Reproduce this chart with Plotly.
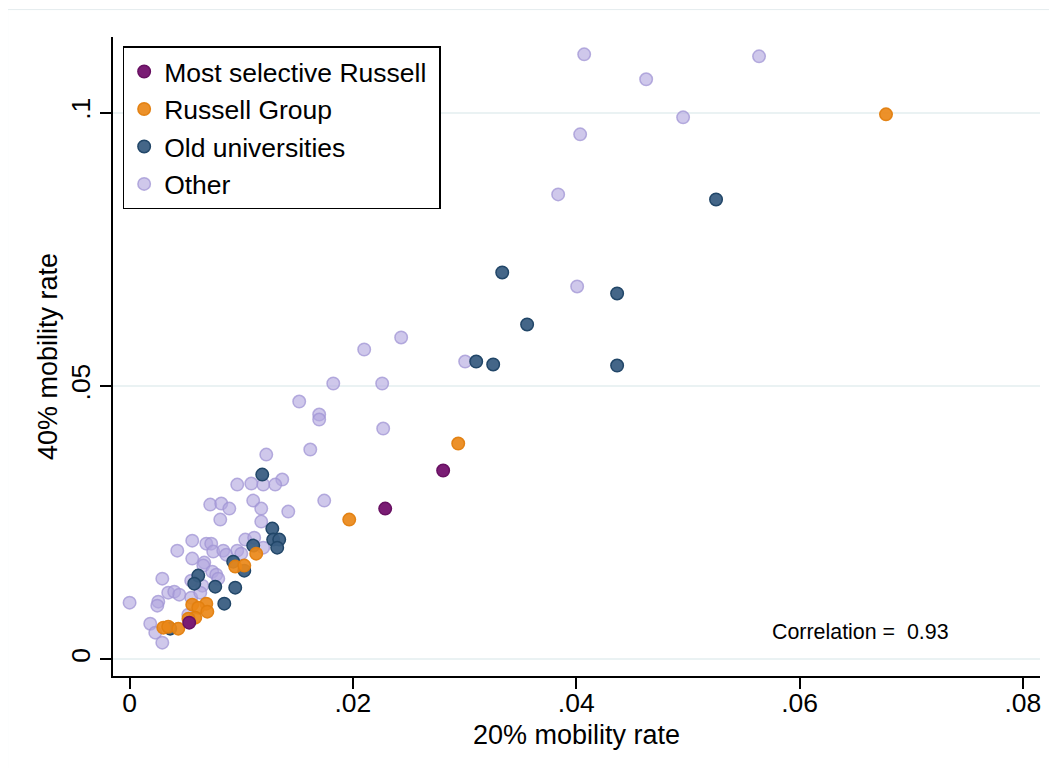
#mobility rates scatter, 20% vs 40%, by university group
import plotly.graph_objects as go

#values
other_x = [0.04071, 0.05637, 0.04626, 0.04957, 0.04035, 0.03838, 0.04008, 0.03005,
           0.02432, 0.02101, 0.01824, 0.02262, 0.01519, 0.01698, 0.01698, 0.02271,
           0.01618, 0.01224, 0.01367, 0.01304, 0.01197, 0.01090, 0.00964, 0.01743,
           0.01421, 0.00722, 0.00821, 0.00893, 0.01107, 0.01179, 0.00812, 0.01179,
           0.00561, 0.00687, 0.00731, 0.00749, 0.00839, 0.00866, 0.00964, 0.01000,
           0.01036, 0.01116, 0.01197, 0.00427, 0.00561, 0.00669, 0.00660, 0.00740,
           0.00776, 0.00794, 0.00293, 0.00651, 0.00346, 0.00400, 0.00445, 0.00552,
           0.00633, 0.00000, 0.00257, 0.00248, 0.00526, 0.00185, 0.00230, 0.00293,
           0.00552]
other_y = [0.11067, 0.11030, 0.10610, 0.09914, 0.09603, 0.08505, 0.06821, 0.05448,
           0.05888, 0.05668, 0.05046, 0.05046, 0.04716, 0.04478, 0.04387, 0.04222,
           0.03838, 0.03746, 0.03289, 0.03197, 0.03197, 0.03216, 0.03197, 0.02904,
           0.02703, 0.02831, 0.02850, 0.02758, 0.02904, 0.02758, 0.02557, 0.02520,
           0.02172, 0.02117, 0.02117, 0.01971, 0.01989, 0.01916, 0.01989, 0.01934,
           0.02191, 0.02227, 0.02044, 0.01989, 0.01843, 0.01770, 0.01715, 0.01605,
           0.01550, 0.01477, 0.01477, 0.01349, 0.01221, 0.01239, 0.01184, 0.01129,
           0.01221, 0.01038, 0.01056, 0.00983, 0.00818, 0.00653, 0.00489, 0.00306,
           0.01440]

old_x = [0.05252, 0.03337, 0.04366, 0.03560, 0.03104, 0.03256, 0.04366, 0.01188,
         0.01278, 0.01286, 0.01340, 0.01322, 0.01107, 0.00928, 0.01027, 0.00615,
         0.00579, 0.00767, 0.00946, 0.00848, 0.00364]
old_y = [0.08413, 0.07077, 0.06693, 0.06126, 0.05448, 0.05394, 0.05375, 0.03380,
         0.02392, 0.02191, 0.02191, 0.02044, 0.02081, 0.01788, 0.01623, 0.01532,
         0.01385, 0.01330, 0.01312, 0.01019, 0.00562]

russell_x = [0.06774, 0.02943, 0.01967, 0.01134, 0.00946, 0.01027, 0.00561, 0.00687,
             0.00615, 0.00696, 0.00588, 0.00527, 0.00302, 0.00346, 0.00436]
russell_y = [0.09969, 0.03948, 0.02557, 0.01934, 0.01697, 0.01715, 0.01001, 0.01019,
             0.00946, 0.00873, 0.00763, 0.00745, 0.00580, 0.00598, 0.00562]

selective_x = [0.00534, 0.02289, 0.02808]
selective_y = [0.00672, 0.02758, 0.03454]

x_ticks = [0, 0.02, 0.04, 0.06, 0.08]
x_labels = ['0', '.02', '.04', '.06', '.08']
y_ticks = [0, 0.05, 0.1]
y_labels = ['0', '.05', '.1']

correlation = 0.93

FONT = 'Liberation Sans, Arial, sans-serif'

fig = go.Figure()

#drawn from back to front, legend shown reversed
#(trailing nbsp on the longest name just pads the legend box a little)
groups = [
    ('Other', other_x, other_y, 'rgba(178,166,222,0.62)', 'rgba(160,148,212,0.75)'),
    ('Old universities', old_x, old_y, 'rgba(58,94,130,0.95)', 'rgb(33,70,104)'),
    ('Russell Group', russell_x, russell_y, 'rgba(234,136,24,0.92)', 'rgba(226,126,14,0.95)'),
    ('Most selective Russell\u00a0', selective_x, selective_y, 'rgb(122,28,116)', 'rgb(104,16,98)'),
]
for name, xs, ys, fill, edge in groups:
    fig.add_trace(go.Scatter(
        x=xs, y=ys, mode='markers', name=name,
        marker=dict(size=12.5, color=fill, line=dict(color=edge, width=1.5))
    ))

fig.add_annotation(
    x=0.05736, y=0.00494, xref='x', yref='y',
    text=f'Correlation =\u00a0 {correlation:.2f}', showarrow=False,
    xanchor='left', yanchor='middle',
    font=dict(family=FONT, size=21.4, color='black')
)

#faint outer frame of the graph region
fig.add_shape(type='rect', xref='paper', yref='paper',
              x0=-0.1137, x1=1.2, y0=-0.3, y1=1.0429,
              line=dict(color='#E4ECEE', width=1), layer='below')

axis_common = dict(
    showline=True, linecolor='black', linewidth=1.5,
    ticks='outside', ticklen=11, tickwidth=1.5, tickcolor='black',
    zeroline=False, tickfont=dict(family=FONT, size=26.5, color='black'),
)

# page body has an 8px margin, so the figure is sized to fit inside the window
fig.update_layout(
    width=1041, height=760,
    margin=dict(l=105, r=9, t=29, b=92),
    paper_bgcolor='white', plot_bgcolor='white',
    font=dict(family=FONT, color='black'),
    xaxis=dict(axis_common, range=[-0.001486, 0.08153], tickvals=x_ticks, ticktext=x_labels,
               showgrid=False, ticklabelstandoff=-9,
               title=dict(text='20% mobility rate', font=dict(family=FONT, size=27), standoff=9)),
    yaxis=dict(axis_common, range=[-0.00304, 0.11384], tickvals=y_ticks, ticktext=y_labels,
               tickangle=-90, showgrid=True, gridcolor='#EAF2F3', gridwidth=2,
               title=dict(text='40% mobility rate', font=dict(family=FONT, size=27), standoff=0)),
    legend=dict(x=0.0104, y=0.9854, xanchor='left', yanchor='top',
                traceorder='reversed', bgcolor='white', bordercolor='black', borderwidth=1.5,
                font=dict(family=FONT, size=26.5, color='black')),
    showlegend=True,
)

fig.write_html('out.html')
